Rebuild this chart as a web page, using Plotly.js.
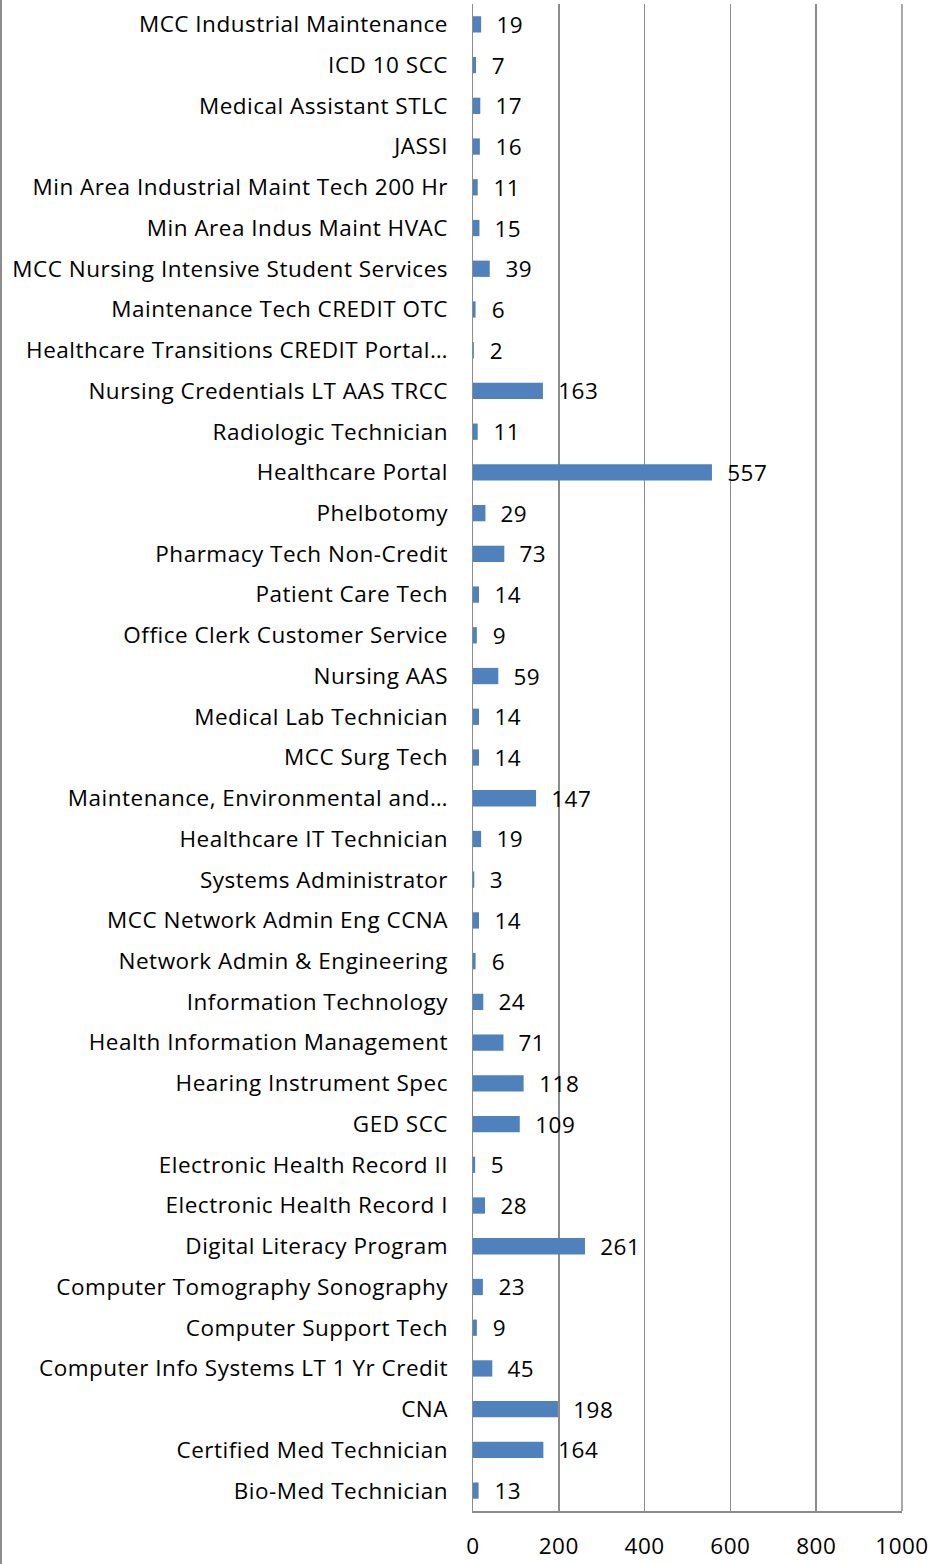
<!DOCTYPE html>
<html><head><meta charset="utf-8">
<script src="https://cdn.plot.ly/plotly-3.0.1.min.js"></script>
<style>html,body{margin:0;padding:0;background:#fff;}#chart{width:930px;height:1564px;}
#chart text{letter-spacing:0.5px;}</style>
</head><body><div id="chart"></div>
<script>
const categories = [
 "MCC Industrial Maintenance","ICD 10 SCC","Medical Assistant STLC","JASSI",
 "Min Area Industrial Maint Tech 200 Hr","Min Area Indus Maint HVAC",
 "MCC Nursing Intensive Student Services","Maintenance Tech CREDIT OTC",
 "Healthcare Transitions CREDIT Portal…","Nursing Credentials LT AAS TRCC",
 "Radiologic Technician","Healthcare Portal","Phelbotomy","Pharmacy Tech Non-Credit",
 "Patient Care Tech","Office Clerk Customer Service","Nursing AAS","Medical Lab Technician",
 "MCC Surg Tech","Maintenance, Environmental and…","Healthcare IT Technician",
 "Systems Administrator","MCC Network Admin Eng CCNA","Network Admin & Engineering",
 "Information Technology","Health Information Management","Hearing Instrument Spec",
 "GED SCC","Electronic Health Record II","Electronic Health Record I",
 "Digital Literacy Program","Computer Tomography Sonography","Computer Support Tech",
 "Computer Info Systems LT 1 Yr Credit","CNA","Certified Med Technician","Bio-Med Technician"
];
const values = [19,7,17,16,11,15,39,6,2,163,11,557,29,73,14,9,59,14,14,147,19,3,14,6,24,71,118,109,5,28,261,23,9,45,198,164,13];
const xTicks = [0,200,400,600,800,1000];

const FONT = "Open Sans, sans-serif";
const FS = 22.5;
const annotations = categories.map((c,i)=>({
  x: values[i], y: c, xref:'x', yref:'y', text: String(values[i]),
  showarrow:false, xanchor:'left', xshift:14, font:{family:FONT,size:FS,color:'#000'}
}));

const trace = {
  type:'bar', orientation:'h', x: values, y: categories,
  marker:{color:'#4f81bd'}, width:0.4, hoverinfo:'none'
};
const layout = {
  width:930, height:1564,
  margin:{l:473,r:28,t:4,b:53,pad:0},
  paper_bgcolor:'#fff', plot_bgcolor:'#fff',
  showlegend:false,
  font:{family:FONT,size:FS,color:'#000'},
  xaxis:{range:[0,1000], tickvals:xTicks, ticktext:xTicks.map(String), showgrid:true,
    gridcolor:'#8c8c8c', gridwidth:1.5, showline:true, linecolor:'#8c8c8c', linewidth:1.5,
    zeroline:false, ticks:'', ticklabelstandoff:14, fixedrange:true},
  yaxis:{type:'category', autorange:'reversed', showgrid:false, showline:true,
    linecolor:'#8c8c8c', linewidth:1.5, zeroline:false, ticks:'', ticklabelstandoff:19, fixedrange:true},
  annotations: annotations,
  shapes:[
    {type:'line', xref:'paper', yref:'paper', x0:-472/429, x1:-472/429, y0:-53/1507, y1:1+4/1507,
     line:{color:'#8c8c8c', width:2}},
    {type:'line', xref:'paper', yref:'paper', x0:1, x1:1, y0:0, y1:1, line:{color:'#8c8c8c', width:1.5}}
  ]
};
Plotly.newPlot('chart',[trace],layout,{staticPlot:true});
</script></body></html>
